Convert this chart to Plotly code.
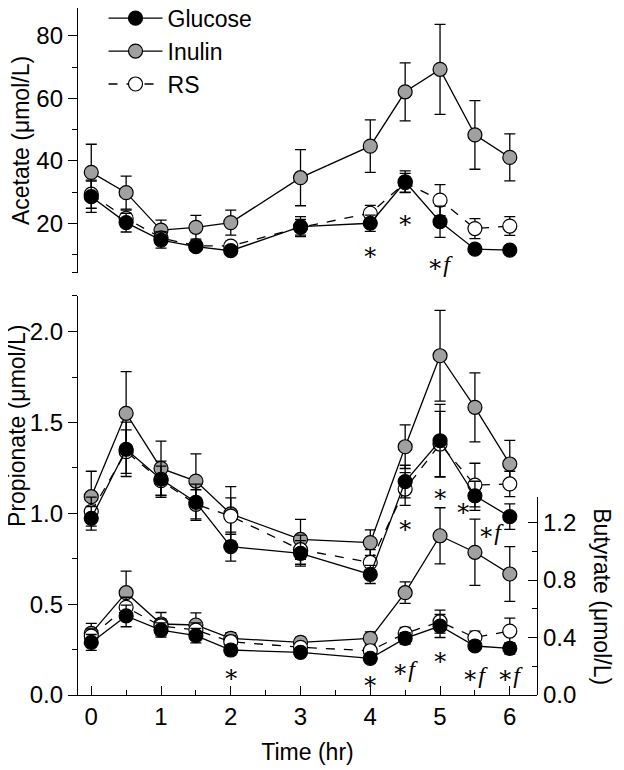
import plotly.graph_objects as go

# sampling times (hr)
t = [0, 0.5, 1, 1.5, 2, 3, 4, 4.5, 5, 5.5, 6]

# acetate (umol/L): mean and SEM
ace_glu = [28.5, 20.2, 14.6, 12.5, 11.2, 18.9, 20.0, 33.3, 20.5, 11.7, 11.4]
ace_glu_sem = [5.0, 3.0, 2.6, 1.2, 1.0, 3.2, 2.6, 3.5, 5.0, 1.0, 1.0]
ace_inu = [36.3, 29.8, 17.8, 18.7, 20.2, 34.6, 44.7, 62.1, 69.3, 48.3, 41.1]
ace_inu_sem = [9.0, 5.3, 3.2, 3.8, 4.0, 9.0, 8.4, 9.3, 14.4, 11.0, 7.5]
ace_rs = [29.3, 21.6, 15.3, 12.8, 12.7, 18.7, 23.2, 33.0, 27.4, 18.3, 19.1]
ace_rs_sem = [4.5, 2.6, 2.0, 1.5, 1.5, 2.5, 2.5, 3.0, 5.0, 3.2, 3.0]

# propionate (umol/L)
pro_glu = [0.973, 1.353, 1.188, 1.061, 0.817, 0.78, 0.664, 1.175, 1.40, 1.097, 0.982]
pro_glu_sem = [0.065, 0.15, 0.10, 0.10, 0.08, 0.07, 0.05, 0.09, 0.20, 0.08, 0.07]
pro_inu = [1.092, 1.551, 1.248, 1.178, 0.997, 0.857, 0.839, 1.367, 1.868, 1.584, 1.272]
pro_inu_sem = [0.14, 0.23, 0.15, 0.15, 0.15, 0.11, 0.07, 0.12, 0.25, 0.19, 0.13]
pro_rs = [1.01, 1.34, 1.18, 1.05, 0.985, 0.80, 0.73, 1.134, 1.382, 1.156, 1.162]
pro_rs_sem = [0.08, 0.12, 0.08, 0.08, 0.10, 0.08, 0.07, 0.09, 0.18, 0.12, 0.07]

# butyrate (umol/L), right axis
but_glu = [0.366, 0.55, 0.452, 0.413, 0.313, 0.297, 0.255, 0.394, 0.48, 0.341, 0.325]
but_glu_sem = [0.055, 0.075, 0.05, 0.05, 0.035, 0.03, 0.03, 0.04, 0.08, 0.03, 0.04]
but_inu = [0.429, 0.712, 0.494, 0.487, 0.394, 0.366, 0.394, 0.712, 1.108, 0.993, 0.842]
but_inu_sem = [0.07, 0.15, 0.08, 0.085, 0.04, 0.035, 0.045, 0.075, 0.195, 0.23, 0.19]
but_rs = [0.41, 0.61, 0.48, 0.452, 0.371, 0.332, 0.308, 0.429, 0.51, 0.40, 0.445]
but_rs_sem = [0.05, 0.07, 0.05, 0.05, 0.04, 0.03, 0.03, 0.042, 0.08, 0.045, 0.09]

# significance marks
STAR = "∗"
SF = "∗<i>f</i>"
ace_sig_x = [4, 4.5, 5, 5.5, 6]
ace_sig_y = [10.8, 21.1, 7.0, 1.2, 1.2]
ace_sig_txt = [STAR, STAR, SF, SF, SF]
pro_sig_x = [4.5, 5, 5.33, 5.73]
pro_sig_y = [0.934, 1.108, 1.03, 0.897]
pro_sig_txt = [STAR, STAR, STAR, SF]
# butyrate marks, given on the propionate scale
but_sig_x = [2, 4, 4.5, 5, 5.5, 6]
but_sig_y = [0.117, 0.075, 0.144, 0.209, 0.108, 0.108]
but_sig_txt = [STAR, STAR, SF, STAR, SF, SF]

FONT = "Arial, Liberation Sans, sans-serif"
SERIF = "Liberation Serif, DejaVu Serif, serif"
GREY = "#a0a0a0"
LW = 1.3

# name, fill, dash, legend rank ; drawn inulin, RS, glucose (glucose on top)
groups = [
    ("Inulin", GREY, "solid", 2, ace_inu, ace_inu_sem, pro_inu, pro_inu_sem, but_inu, but_inu_sem),
    ("RS", "white", "dash", 3, ace_rs, ace_rs_sem, pro_rs, pro_rs_sem, but_rs, but_rs_sem),
    ("Glucose", "black", "solid", 1, ace_glu, ace_glu_sem, pro_glu, pro_glu_sem, but_glu, but_glu_sem),
]

fig = go.Figure()
for name, fill, dash, rank, a, a_e, p, p_e, b, b_e in groups:
    for yv, ye, xa, ya, show in [(a, a_e, "x2", "y", True),
                                 (p, p_e, "x", "y2", False),
                                 (b, b_e, "x", "y3", False)]:
        fig.add_trace(go.Scatter(
            x=t, y=yv, xaxis=xa, yaxis=ya, name=name, mode="lines+markers",
            showlegend=show, legendrank=rank, cliponaxis=False,
            line=dict(color="black", width=LW, dash=dash),
            marker=dict(size=14, color=fill, line=dict(color="black", width=1.2)),
            error_y=dict(type="data", array=ye, color="black", thickness=LW, width=5.5),
        ))

ann = []
for xs, ys, txts, yr in [(ace_sig_x, ace_sig_y, ace_sig_txt, "y"),
                         (pro_sig_x, pro_sig_y, pro_sig_txt, "y2"),
                         (but_sig_x, but_sig_y, but_sig_txt, "y2")]:
    for xv, yv, tx in zip(xs, ys, txts):
        ann.append(dict(x=xv, y=yv, xref="x", yref=yr, text=tx, showarrow=False,
                        font=dict(family=SERIF, size=24, color="black")))

ann.append(dict(x=-0.133, y=0.3916, xref="paper", yref="paper", text="Propionate (μmol/L)",
                xanchor="center", yanchor="middle", textangle=-90, showarrow=False,
                font=dict(family=FONT, size=23, color="black")))
ann.append(dict(x=1.141, y=0.1427, xref="paper", yref="paper", text="Butyrate (μmol/L)",
                xanchor="center", yanchor="middle", textangle=90, showarrow=False,
                font=dict(family=FONT, size=23, color="black")))

axis_common = dict(showgrid=False, zeroline=False, showline=True, linecolor="black",
                   linewidth=LW, tickcolor="black", tickwidth=LW,
                   tickfont=dict(family=FONT, size=24, color="black"))

fig.update_layout(
    width=624, height=770,
    # the page body adds 8px, so the figure is drawn shifted by 8px
    margin=dict(l=70, r=95, t=0, b=83, autoexpand=False),
    paper_bgcolor="white", plot_bgcolor="rgba(0,0,0,0)",
    font=dict(family=FONT, color="black"),
    showlegend=True,
    legend=dict(x=0.0556, y=1.0164, xanchor="left", yanchor="top", itemwidth=54,
                font=dict(family=FONT, size=23, color="black"),
                bgcolor="rgba(0,0,0,0)", tracegroupgap=0),
    annotations=ann,
    xaxis=dict(domain=[0, 1], anchor="y2", range=[-0.19, 6.39],
               tickvals=[0, 1, 2, 3, 4, 5, 6], ticks="inside", ticklen=9,
               minor=dict(tickvals=[0.5, 1.5, 2.5, 3.5, 4.5, 5.5], ticks="inside",
                          ticklen=5, tickcolor="black", tickwidth=LW),
               title=dict(text="Time (hr)", font=dict(family=FONT, size=23), standoff=14),
               **axis_common),
    xaxis2=dict(domain=[0, 1], anchor="y", matches="x", visible=False, range=[-0.19, 6.39]),
    yaxis=dict(domain=[0.6143, 1], anchor="x2", range=[4.07, 88.95],
               tickvals=[20, 40, 60, 80], ticks="outside", ticklen=9,
               minor=dict(tickvals=[4.07, 10, 30, 50, 70], ticks="outside",
                          ticklen=5, tickcolor="black", tickwidth=LW),
               title=dict(text="Acetate (μmol/L)", font=dict(family=FONT, size=23), standoff=6),
               **axis_common),
    yaxis2=dict(domain=[0, 0.5808], anchor="x", range=[0, 2.197],
                tickvals=[0, 0.5, 1.0, 1.5, 2.0], tickformat=".1f", ticks="outside", ticklen=9,
                minor=dict(tickvals=[0.25, 0.75, 1.25, 1.75, 2.197], ticks="outside",
                           ticklen=5, tickcolor="black", tickwidth=LW),
                **axis_common),
    yaxis3=dict(domain=[0, 0.2887], anchor="x", side="right", range=[0, 1.38],
                tickvals=[0, 0.4, 0.8, 1.2], tickformat=".1f", ticks="inside", ticklen=9,
                minor=dict(tickvals=[0.2, 0.6, 1.0, 1.38], ticks="inside",
                           ticklen=5, tickcolor="black", tickwidth=LW),
                **axis_common),
)

fig.write_html("out.html")
